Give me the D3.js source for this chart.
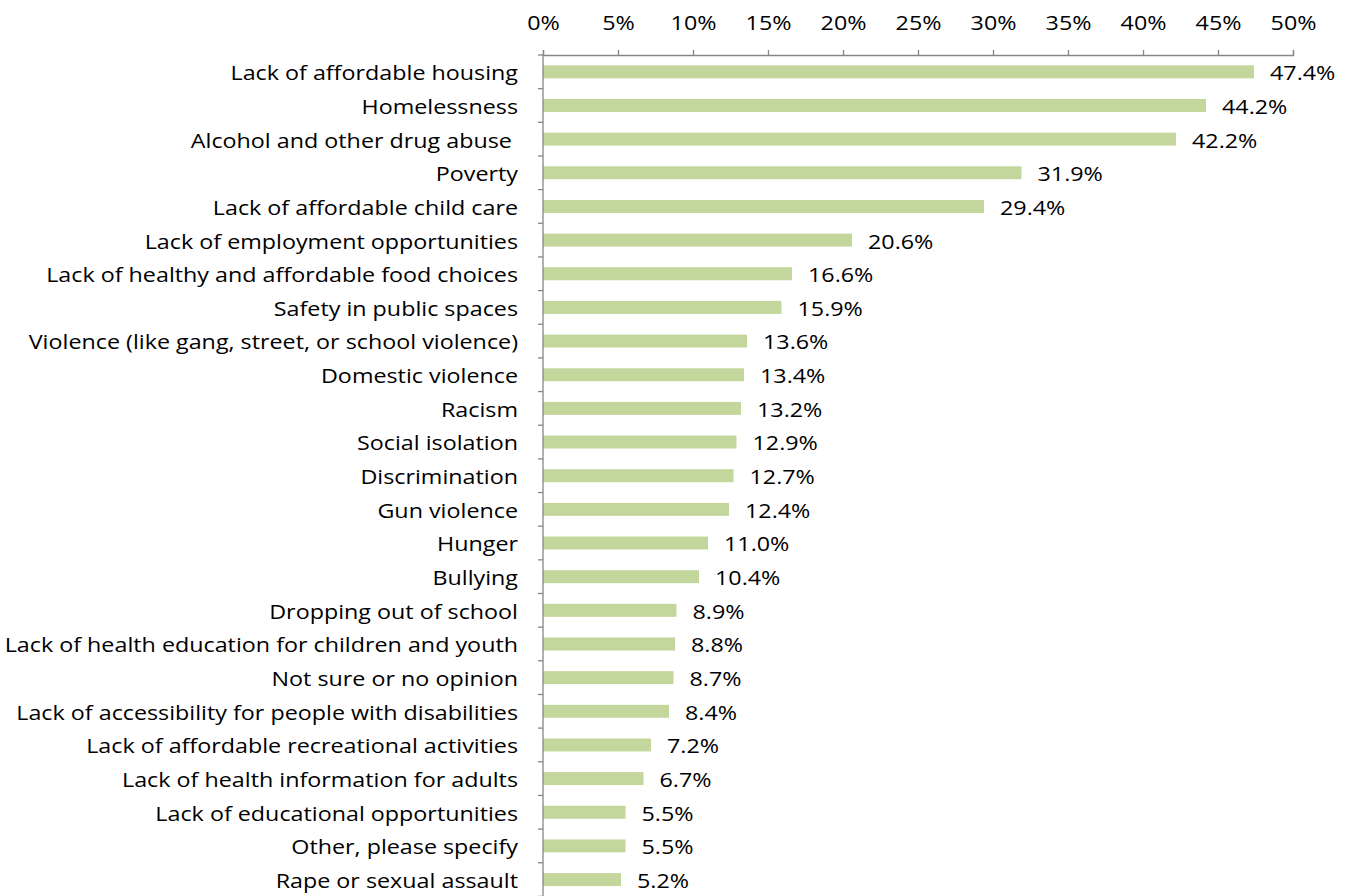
<!DOCTYPE html>
<html>
<head>
<meta charset="utf-8">
<script src="https://cdn.jsdelivr.net/npm/d3@7"></script>
<style>
  html, body { margin: 0; padding: 0; background: #fff; }
  svg text { font-family: "Open Sans", Lato, sans-serif; fill: #000; white-space: pre; }
</style>
</head>
<body>
<svg id="chart" width="1353" height="896"></svg>
<script>
// Community issues, share of respondents
const categories = [
  "Lack of affordable housing",
  "Homelessness",
  "Alcohol and other drug abuse ",
  "Poverty",
  "Lack of affordable child care",
  "Lack of employment opportunities",
  "Lack of healthy and affordable food choices",
  "Safety in public spaces",
  "Violence (like gang, street, or school violence)",
  "Domestic violence",
  "Racism",
  "Social isolation",
  "Discrimination",
  "Gun violence",
  "Hunger",
  "Bullying",
  "Dropping out of school",
  "Lack of health education for children and youth",
  "Not sure or no opinion",
  "Lack of accessibility for people with disabilities",
  "Lack of affordable recreational activities",
  "Lack of health information for adults",
  "Lack of educational opportunities",
  "Other, please specify",
  "Rape or sexual assault"
];
const values = [47.4, 44.2, 42.2, 31.9, 29.4, 20.6, 16.6, 15.9, 13.6, 13.4, 13.2, 12.9,
  12.7, 12.4, 11.0, 10.4, 8.9, 8.8, 8.7, 8.4, 7.2, 6.7, 5.5, 5.5, 5.2];
const tickValues = [0, 5, 10, 15, 20, 25, 30, 35, 40, 45, 50];

const data = categories.map((c, i) => ({ category: c, value: values[i] }));

const svg = d3.select("#chart");
const margin = { top: 55, left: 543, right: 60, bottom: 0 };
const width = 1293 - margin.left;
const height = 896.4 - margin.top;
const axisColor = "#868686";
const fontSize = 20;
const textStretch = 1.165; // slightly widened lettering

const x = d3.scaleLinear().domain([0, 50]).range([0, width]);
const y = d3.scaleBand().domain(categories).range([0, height]).paddingInner(0.615).paddingOuter(0.3075);

const g = svg.append("g").attr("transform", `translate(${margin.left},${margin.top})`);

// Bars
g.selectAll("rect.bar")
  .data(data)
  .join("rect")
  .attr("class", "bar")
  .attr("x", 0)
  .attr("y", d => y(d.category))
  .attr("width", d => x(d.value))
  .attr("height", y.bandwidth())
  .attr("fill", "#C3D69B");

// Value labels
g.selectAll("text.value")
  .data(data)
  .join("text")
  .attr("class", "value")
  .attr("transform", d => `translate(${x(d.value) + 16},${y(d.category) + y.bandwidth() / 2}) scale(${textStretch},1)`)
  .attr("dy", "0.42em")
  .style("font-size", fontSize + "px")
  .text(d => d.value.toFixed(1) + "%");

// Top percentage axis
const xAxis = d3.axisTop(x)
  .tickValues(tickValues)
  .tickSize(5)
  .tickPadding(20)
  .tickFormat(d => d + "%");
const xg = g.append("g").call(xAxis);
xg.select(".domain").attr("stroke", axisColor).attr("stroke-width", 1.3);
xg.selectAll(".tick line").attr("stroke", axisColor).attr("stroke-width", 1.3);
xg.selectAll(".tick text")
  .style("font-size", fontSize + "px")
  .attr("fill", "#000")
  .attr("transform", `scale(${textStretch},1)`);

// Category axis: ticks sit on band boundaries
const step = y.step();
const boundaries = d3.range(categories.length + 1).map(i => i * step);
const yg = g.append("g");
yg.append("line")
  .attr("x1", 0).attr("x2", 0)
  .attr("y1", 0).attr("y2", height)
  .attr("stroke", axisColor).attr("stroke-width", 1.3);
yg.selectAll("line.btick")
  .data(boundaries)
  .join("line")
  .attr("class", "btick")
  .attr("x1", -5).attr("x2", 0)
  .attr("y1", d => d).attr("y2", d => d)
  .attr("stroke", axisColor).attr("stroke-width", 1.3);
yg.selectAll("text.cat")
  .data(categories)
  .join("text")
  .attr("class", "cat")
  .attr("transform", d => `translate(-25,${y(d) + y.bandwidth() / 2}) scale(${textStretch},1)`)
  .attr("dy", "0.42em")
  .attr("text-anchor", "end")
  .style("font-size", fontSize + "px")
  .text(d => d);
</script>
</body>
</html>
